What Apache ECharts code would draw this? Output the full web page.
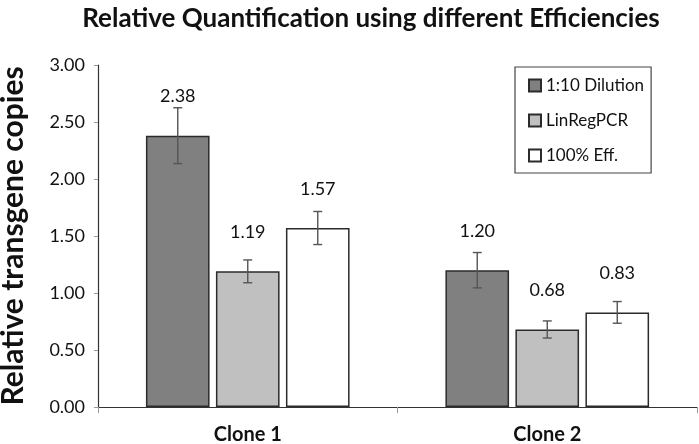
<!DOCTYPE html>
<html>
<head>
<meta charset="utf-8">
<script src="https://cdn.jsdelivr.net/npm/echarts@6/dist/echarts.min.js"></script>
<style>html,body{margin:0;padding:0;background:#fff;}#chart{width:699px;height:444px;}</style>
</head>
<body>
<div id="chart"></div>
<script>
var categories = ['Clone 1', 'Clone 2'];
var seriesNames = ['1:10 Dilution', 'LinRegPCR', '100% Eff.'];
var dilution = [2.38, 1.20];
var linreg = [1.19, 0.68];
var eff100 = [1.57, 0.83];
var errDilution = [0.245, 0.155];
var errLinreg = [0.10, 0.075];
var errEff100 = [0.145, 0.095];
var colors = ['#808080', '#c0c0c0', '#ffffff'];

var FONT = 'Lato, "Open Sans", sans-serif';
var values = [dilution, linreg, eff100];
var errors = [errDilution, errLinreg, errEff100];
var catGap = 0.32, barGapRatio = 0.10;

var chart = echarts.init(document.getElementById('chart'), null, {renderer: 'canvas'});

var series = [];
values.forEach(function (vals, i) {
  series.push({
    name: seriesNames[i],
    type: 'bar',
    data: vals,
    barCategoryGap: '32%',
    barGap: '10%',
    itemStyle: {color: colors[i], borderColor: '#2b2b2b', borderWidth: 1.5},
    label: {
      show: true, position: 'top', distance: 30,
      formatter: function (p) { return p.value.toFixed(2); },
      fontFamily: FONT, fontSize: 18, color: '#111'
    },
    z: 2
  });
});
values.forEach(function (vals, i) {
  series.push({
    type: 'custom',
    silent: true,
    z: 5,
    data: vals.map(function (v, j) { return [j, v - errors[i][j], v + errors[i][j]]; }),
    encode: {x: 0, y: [1, 2]},
    renderItem: function (params, api) {
      var band = api.size([1, 0])[0];
      var bw = band * (1 - catGap) / (3 + 2 * barGapRatio);
      var step = bw * (1 + barGapRatio);
      var off = (i - 1) * step;
      var lo = api.coord([api.value(0), api.value(1)]);
      var hi = api.coord([api.value(0), api.value(2)]);
      var x = lo[0] + off;
      var cap = 4.5;
      var st = {stroke: '#555', lineWidth: 1.4};
      return {
        type: 'group',
        children: [
          {type: 'line', shape: {x1: x, y1: lo[1], x2: x, y2: hi[1]}, style: st},
          {type: 'line', shape: {x1: x - cap, y1: lo[1], x2: x + cap, y2: lo[1]}, style: st},
          {type: 'line', shape: {x1: x - cap, y1: hi[1], x2: x + cap, y2: hi[1]}, style: st}
        ]
      };
    }
  });
});

chart.setOption({
  animation: false,
  backgroundColor: '#fff',
  title: {
    text: 'Relative Quantification using different Efficiencies',
    left: 366, top: 1, textAlign: 'center',
    textStyle: {fontFamily: FONT, fontWeight: 'bold', fontSize: 26, color: '#111'}
  },
  legend: {
    data: seriesNames,
    orient: 'vertical',
    left: 515, top: 67,
    padding: [10, 7, 9, 13],
    itemGap: 18,
    itemWidth: 12, itemHeight: 12,
    icon: 'rect',
    borderColor: '#444', borderWidth: 1.2,
    textStyle: {fontFamily: FONT, fontSize: 17, color: '#111'}
  },
  grid: {left: 98, right: 2, top: 65, bottom: 37, containLabel: false, outerBoundsMode: 'none'},
  xAxis: {
    type: 'category',
    data: categories,
    axisLine: {lineStyle: {color: '#333', width: 1.2}},
    axisTick: {show: true, length: 6, lineStyle: {color: '#999'}},
    axisLabel: {fontFamily: FONT, fontWeight: 'bold', fontSize: 20, color: '#111', margin: 18}
  },
  yAxis: {
    type: 'value',
    min: 0, max: 3, interval: 0.5,
    name: 'Relative transgene copies',
    nameLocation: 'middle',
    nameGap: 70,
    nameTextStyle: {fontFamily: FONT, fontWeight: 'bold', fontSize: 30, color: '#111'},
    axisLine: {show: true, lineStyle: {color: '#333', width: 1.2}},
    axisTick: {show: true, length: 4, lineStyle: {color: '#999'}},
    splitLine: {show: false},
    axisLabel: {
      fontFamily: FONT, fontSize: 18, color: '#111', margin: 13,
      formatter: function (v) { return v.toFixed(2); }
    }
  },
  series: series
});
</script>
</body>
</html>
